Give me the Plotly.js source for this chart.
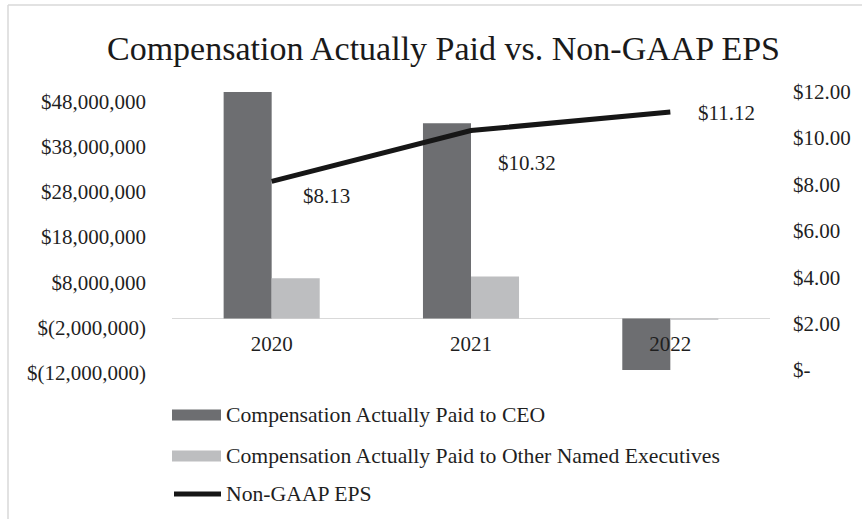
<!DOCTYPE html>
<html><head><meta charset="utf-8">
<script src="https://cdn.plot.ly/plotly-3.0.1.min.js"></script>
<style>html,body{margin:0;padding:0;background:#fff}#chart{width:862px;height:519px}</style>
</head><body><div id="chart"></div>
<script>
// ---- data ----
const years = ['2020', '2021', '2022'];
const ceoPaid = [50100000, 43200000, -11400000];
const neoPaid = [8900000, 9300000, -300000];
const eps = [8.13, 10.32, 11.12];
const epsLabels = ['$8.13', '$10.32', '$11.12'];
const seriesNames = ['Compensation Actually Paid to CEO',
  'Compensation Actually Paid to Other Named Executives', 'Non-GAAP EPS'];
const leftTicks = [-12000000, -2000000, 8000000, 18000000, 28000000, 38000000, 48000000];
const leftTickText = ['$(12,000,000)', '$(2,000,000)', '$8,000,000', '$18,000,000',
  '$28,000,000', '$38,000,000', '$48,000,000'];
const rightTicks = [0, 2, 4, 6, 8, 10, 12];
const rightTickText = ['$-', '$2.00', '$4.00', '$6.00', '$8.00', '$10.00', '$12.00'];
const chartTitle = 'Compensation Actually Paid vs. Non-GAAP EPS';

// ---- layout helpers (pixels -> paper) ----
const W = 862, H = 519;
const px = x => x / W;
const py = y => 1 - y / H;
const FONT = 'Liberation Serif, Times New Roman, serif';
const TXT = '#1f1f1f';
const colCEO = '#6d6e71', colNEO = '#bdbec0', colEPS = '#161616';

const traces = [
  {type: 'bar', name: seriesNames[0], x: years, y: ceoPaid, marker: {color: colCEO}, yaxis: 'y', showlegend: false},
  {type: 'bar', name: seriesNames[1], x: years, y: neoPaid, marker: {color: colNEO}, yaxis: 'y', showlegend: false},
  {type: 'scatter', mode: 'lines', name: seriesNames[2], x: years, y: eps, yaxis: 'y2',
   line: {color: colEPS, width: 5}, showlegend: false}
];

const labelShift = [[55, -15], [56, -32], [56, -1]];
const annotations = eps.map((v, i) => ({
  x: i, y: v, xref: 'x', yref: 'y2', text: epsLabels[i], showarrow: false,
  xshift: labelShift[i][0], yshift: labelShift[i][1],
  font: {family: FONT, size: 21, color: TXT}
}));

// custom legend
const legY = [415, 456, 494];
seriesNames.forEach((n, i) => annotations.push({
  x: px(224), y: py(legY[i]), xref: 'paper', yref: 'paper', xanchor: 'left', yanchor: 'middle',
  text: n, showarrow: false, font: {family: FONT, size: 21.7, color: TXT}
}));

const shapes = [
  {type: 'line', xref: 'paper', yref: 'paper', x0: px(8), x1: 1.01, y0: py(5), y1: py(5), line: {color: '#d9d9d9', width: 1.5}},
  {type: 'line', xref: 'paper', yref: 'paper', x0: px(8), x1: px(8), y0: py(5), y1: -0.01, line: {color: '#d9d9d9', width: 1.5}},
  {type: 'rect', xref: 'paper', yref: 'paper', x0: px(172), x1: px(221), y0: py(legY[0] - 5.5), y1: py(legY[0] + 5.5), fillcolor: colCEO, line: {width: 0}},
  {type: 'rect', xref: 'paper', yref: 'paper', x0: px(172), x1: px(221), y0: py(legY[1] - 5.5), y1: py(legY[1] + 5.5), fillcolor: colNEO, line: {width: 0}},
  {type: 'line', xref: 'paper', yref: 'paper', x0: px(174), x1: px(221), y0: py(legY[2]), y1: py(legY[2]), line: {color: colEPS, width: 5}}
];

const layout = {
  width: W, height: H,
  margin: {l: 0, r: 0, t: 0, b: 0},
  paper_bgcolor: '#fff', plot_bgcolor: 'rgba(0,0,0,0)',
  font: {family: FONT, size: 21, color: TXT},
  title: {text: chartTitle, x: px(443.5), xanchor: 'center', y: py(48), yanchor: 'middle', xref: 'paper', yref: 'paper',
    font: {family: FONT, size: 34, color: '#1a1a1a'}},
  barmode: 'group', bargap: 0.518, bargroupgap: 0,
  showlegend: false,
  xaxis: {domain: [px(172), px(770)], anchor: 'free', position: py(329), type: 'category',
    range: [-0.5, 2.5], autorange: false,
    showgrid: false, showline: false, zeroline: false, ticks: '',
    tickfont: {family: FONT, size: 21, color: TXT}},
  yaxis: {domain: [py(380), py(85)], anchor: 'free', position: px(146),
    range: [-13606000, 51659000], autorange: false, tickvals: leftTicks, ticktext: leftTickText,
    showgrid: false, showline: false, ticks: '',
    zeroline: true, zerolinecolor: '#d9d9d9', zerolinewidth: 1.5,
    tickfont: {family: FONT, size: 21, color: TXT}},
  yaxis2: {overlaying: 'y', side: 'right', anchor: 'free', position: px(792),
    range: [-0.431, 12.284], autorange: false, tickvals: rightTicks, ticktext: rightTickText,
    showgrid: false, showline: false, zeroline: false, ticks: '',
    tickfont: {family: FONT, size: 21, color: TXT}},
  annotations: annotations,
  shapes: shapes
};

Plotly.newPlot('chart', traces, layout, {displayModeBar: false, staticPlot: true});
</script>
</body></html>
